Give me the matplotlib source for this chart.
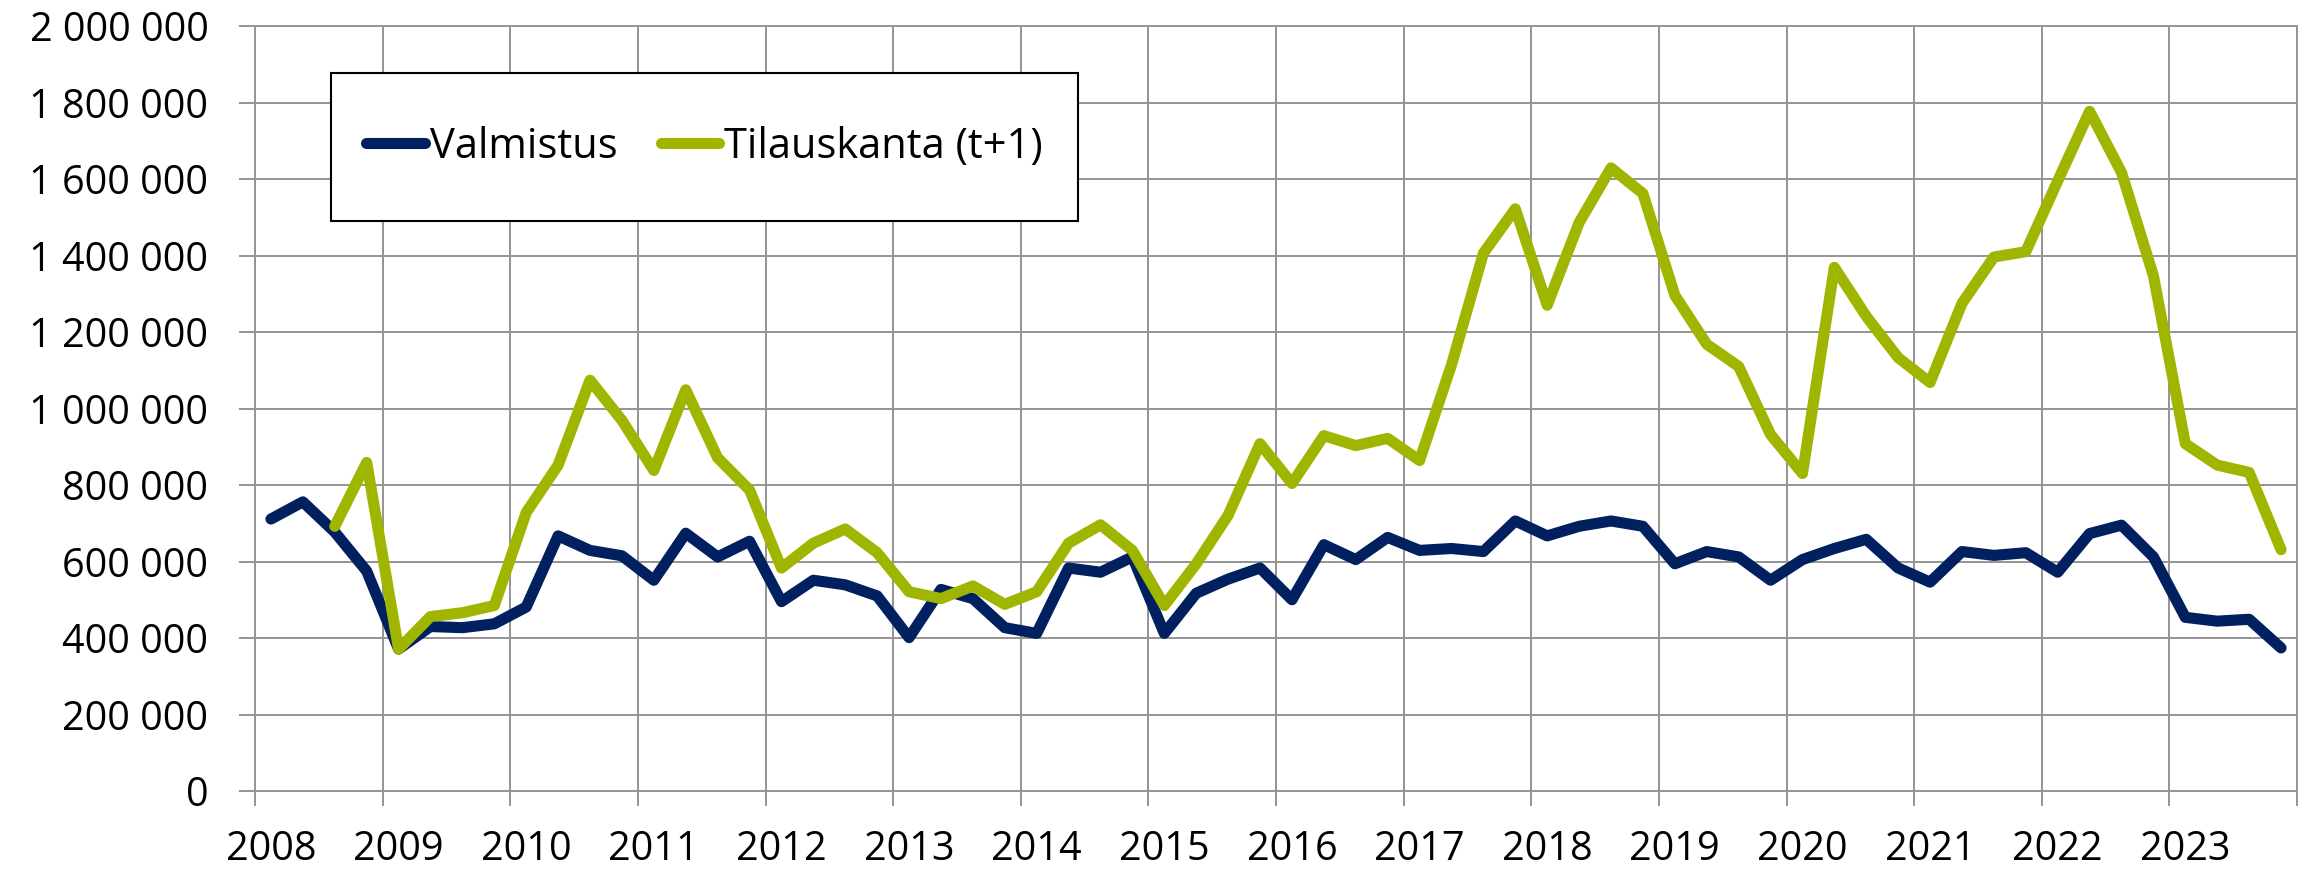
import numpy as np
import matplotlib
matplotlib.use("Agg")
import matplotlib.pyplot as plt
from matplotlib.patches import Rectangle
from matplotlib.ticker import FixedLocator, FuncFormatter

# quarterly values, 2008Q1 .. 2023Q4
years = list(range(2008, 2024))

valmistus = [711, 756, 677, 575,
             371, 430, 427, 437,
             481, 667, 629, 615,
             551, 674, 612, 653,
             495, 551, 539, 510,
             401, 527, 503, 427,
             412, 583, 572, 612,
             412, 517, 554, 583,
             500, 644, 605, 663,
             629, 634, 626, 706,
             667, 692, 706, 692,
             594, 626, 612, 551,
             605, 634, 658, 583,
             546, 626, 616, 623,
             572, 673, 695, 612,
             454, 444, 449, 374]

tilauskanta = [np.nan, np.nan, 692, 859,
               371, 456, 466, 485,
               728, 852, 1074, 969,
               838, 1049, 871, 787,
               583, 648, 685, 623,
               521, 503, 536, 488,
               521, 648, 696, 629,
               485, 594, 721, 908,
               804, 929, 903, 922,
               864, 1114, 1406, 1522,
               1270, 1486, 1629, 1562,
               1296, 1168, 1110, 932,
               830, 1369, 1241, 1133,
               1068, 1275, 1396, 1410,
               1595, 1777, 1617, 1347,
               908, 852, 833, 631]

valmistus = np.array(valmistus, dtype=float) * 1000
tilauskanta = np.array(tilauskanta, dtype=float) * 1000

plt.rcParams['font.family'] = ['Open Sans', 'DejaVu Sans']
grid_c = '#969696'
navy = '#002060'
green = '#9FB500'

fig = plt.figure(figsize=(23.06, 8.73), dpi=100)
ax = fig.add_axes([255 / 2306, 1 - 791 / 873, 2042 / 2306, 765 / 873])

x = np.arange(len(valmistus))
ax.plot(x, valmistus, color=navy, lw=8, solid_joinstyle='round',
        solid_capstyle='round', label='Valmistus', zorder=3)
ax.plot(x, tilauskanta, color=green, lw=8, solid_joinstyle='round',
        solid_capstyle='round', label='Tilauskanta (t+1)', zorder=3)

ax.set_xlim(-0.5, len(x) - 0.5)
ax.set_ylim(0, 2000000)

# year boundaries get grid + tick marks, labels sit on the Q1 point
ax.xaxis.set_major_locator(FixedLocator(np.arange(-0.5, len(x), 4)))
ax.xaxis.set_minor_locator(FixedLocator(np.arange(0, len(x), 4)))
ax.xaxis.set_major_formatter(FuncFormatter(lambda v, p: ''))
ax.set_xticklabels([str(y) for y in years], minor=True)
ax.yaxis.set_major_locator(FixedLocator(np.arange(0, 2000001, 200000)))
ax.yaxis.set_major_formatter(FuncFormatter(lambda v, p: f"{int(v):,}".replace(",", " ")))

ax.tick_params(axis='x', which='major', length=10.8, width=1.44, color=grid_c)
ax.tick_params(axis='x', which='minor', length=0, pad=28, labelsize=28.5)
ax.tick_params(axis='y', length=11.5, width=1.44, color=grid_c, pad=22, labelsize=28.5)

ax.grid(True, which='major', color=grid_c, lw=1.44)
ax.set_axisbelow(True)
for s in ax.spines.values():
    s.set_color(grid_c)
    s.set_linewidth(1.44)

# legend box
bx, by, bw, bh = 76 / 2042, (791 - 221) / 765, 747 / 2042, 148 / 765
ax.add_patch(Rectangle((bx, by), bw, bh, transform=ax.transAxes,
                       facecolor='white', edgecolor='black', lw=1.5, zorder=4))
ax.legend(loc='center', bbox_to_anchor=(bx + bw / 2, by + bh / 2), ncol=2,
          frameon=False, fontsize=30, handlelength=1.4, handletextpad=0.12,
          columnspacing=1.05)

fig.savefig('out.png', dpi=100)
